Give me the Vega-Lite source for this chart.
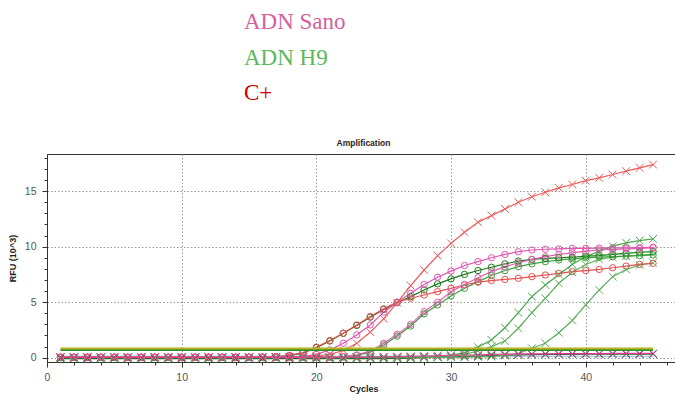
{
  "$schema": "https://vega.github.io/schema/vega-lite/v6.json",
  "background": "white",
  "padding": {"left": 7, "top": 5, "right": 0, "bottom": 0},
  "config": {"view": {"stroke": null}},
  "spacing": 14,
  "resolve": {"scale": {"color": "independent"}},
  "vconcat": [
    {
      "width": 394,
      "height": 119,
      "data": {"values": [{"label": "ADN Sano"}, {"label": "ADN H9"}, {"label": "C+"}]},
      "mark": {"type": "text", "align": "left", "baseline": "alphabetic", "font": "Liberation Serif", "fontSize": 23},
      "encoding": {
        "y": {"field": "label", "type": "nominal", "scale": {"type": "point", "domain": ["ADN Sano", "ADN H9", "C+"], "padding": 0.676}, "axis": null},
        "text": {"field": "label"},
        "color": {"field": "label", "type": "nominal", "scale": {"domain": ["ADN Sano", "ADN H9", "C+"], "range": ["#d4609e", "#5cb85c", "#c80000"]}, "legend": null}
      }
    },
    {
      "width": 633,
      "height": 208,
      "view": {"stroke": "#333", "strokeWidth": 1},
      "title": {"text": "Amplification", "fontSize": 8.5, "font": "Liberation Sans", "fontWeight": "bold", "color": "#222", "offset": 5},
      "data": {"values": [
        {"c":1,"cx":0.05,"co":0.05,"s1":0.05,"s2":0.05,"g1":0.02,"g2":0.02,"x1":0.02,"x2":0.02,"x3":0.02,"sn":0.05,"gn":-0.08,"bl":0.12,"t1":0.82,"t2":0.68},
        {"c":2,"cx":0.05,"co":0.05,"s1":0.05,"s2":0.05,"g1":0.02,"g2":0.02,"x1":0.02,"x2":0.02,"x3":0.02,"sn":0.05,"gn":-0.08,"bl":0.12,"t1":0.82,"t2":0.68},
        {"c":3,"cx":0.05,"co":0.05,"s1":0.05,"s2":0.05,"g1":0.02,"g2":0.02,"x1":0.02,"x2":0.02,"x3":0.02,"sn":0.05,"gn":-0.08,"bl":0.12,"t1":0.82,"t2":0.68},
        {"c":4,"cx":0.05,"co":0.05,"s1":0.05,"s2":0.05,"g1":0.02,"g2":0.02,"x1":0.02,"x2":0.02,"x3":0.02,"sn":0.05,"gn":-0.08,"bl":0.12,"t1":0.82,"t2":0.68},
        {"c":5,"cx":0.05,"co":0.05,"s1":0.05,"s2":0.05,"g1":0.02,"g2":0.02,"x1":0.02,"x2":0.02,"x3":0.02,"sn":0.05,"gn":-0.08,"bl":0.12,"t1":0.82,"t2":0.68},
        {"c":6,"cx":0.05,"co":0.05,"s1":0.05,"s2":0.05,"g1":0.02,"g2":0.02,"x1":0.02,"x2":0.02,"x3":0.02,"sn":0.05,"gn":-0.08,"bl":0.12,"t1":0.82,"t2":0.68},
        {"c":7,"cx":0.05,"co":0.05,"s1":0.05,"s2":0.05,"g1":0.02,"g2":0.02,"x1":0.02,"x2":0.02,"x3":0.02,"sn":0.05,"gn":-0.08,"bl":0.12,"t1":0.82,"t2":0.68},
        {"c":8,"cx":0.05,"co":0.05,"s1":0.05,"s2":0.05,"g1":0.02,"g2":0.02,"x1":0.02,"x2":0.02,"x3":0.02,"sn":0.05,"gn":-0.08,"bl":0.12,"t1":0.82,"t2":0.68},
        {"c":9,"cx":0.05,"co":0.05,"s1":0.05,"s2":0.05,"g1":0.02,"g2":0.02,"x1":0.02,"x2":0.02,"x3":0.02,"sn":0.05,"gn":-0.08,"bl":0.12,"t1":0.82,"t2":0.68},
        {"c":10,"cx":0.05,"co":0.05,"s1":0.05,"s2":0.05,"g1":0.02,"g2":0.02,"x1":0.02,"x2":0.02,"x3":0.02,"sn":0.05,"gn":-0.08,"bl":0.12,"t1":0.82,"t2":0.68},
        {"c":11,"cx":0.05,"co":0.05,"s1":0.05,"s2":0.05,"g1":0.02,"g2":0.02,"x1":0.02,"x2":0.02,"x3":0.02,"sn":0.05,"gn":-0.08,"bl":0.12,"t1":0.82,"t2":0.68},
        {"c":12,"cx":0.05,"co":0.05,"s1":0.05,"s2":0.05,"g1":0.02,"g2":0.02,"x1":0.02,"x2":0.02,"x3":0.02,"sn":0.05,"gn":-0.08,"bl":0.12,"t1":0.82,"t2":0.68},
        {"c":13,"cx":0.05,"co":0.05,"s1":0.05,"s2":0.05,"g1":0.02,"g2":0.02,"x1":0.02,"x2":0.02,"x3":0.02,"sn":0.05,"gn":-0.08,"bl":0.12,"t1":0.82,"t2":0.68},
        {"c":14,"cx":0.05,"co":0.05,"s1":0.05,"s2":0.05,"g1":0.02,"g2":0.02,"x1":0.02,"x2":0.02,"x3":0.02,"sn":0.05,"gn":-0.08,"bl":0.12,"t1":0.82,"t2":0.68},
        {"c":15,"cx":0.05,"co":0.05,"s1":0.05,"s2":0.05,"g1":0.02,"g2":0.02,"x1":0.02,"x2":0.02,"x3":0.02,"sn":0.05,"gn":-0.08,"bl":0.12,"t1":0.82,"t2":0.68},
        {"c":16,"cx":0.05,"co":0.06,"s1":0.05,"s2":0.05,"g1":0.04,"g2":0.02,"x1":0.02,"x2":0.02,"x3":0.02,"sn":0.05,"gn":-0.08,"bl":0.12,"t1":0.82,"t2":0.68},
        {"c":17,"cx":0.05,"co":0.1,"s1":0.05,"s2":0.05,"g1":0.08,"g2":0.02,"x1":0.02,"x2":0.02,"x3":0.02,"sn":0.05,"gn":-0.08,"bl":0.12,"t1":0.82,"t2":0.68},
        {"c":18,"cx":0.06,"co":0.2,"s1":0.06,"s2":0.05,"g1":0.18,"g2":0.02,"x1":0.02,"x2":0.02,"x3":0.02,"sn":0.05,"gn":-0.08,"bl":0.12,"t1":0.82,"t2":0.68},
        {"c":19,"cx":0.08,"co":0.45,"s1":0.1,"s2":0.05,"g1":0.4,"g2":0.03,"x1":0.02,"x2":0.02,"x3":0.02,"sn":0.05,"gn":-0.08,"bl":0.12,"t1":0.82,"t2":0.68},
        {"c":20,"cx":0.15,"co":0.95,"s1":0.3,"s2":0.05,"g1":0.9,"g2":0.03,"x1":0.02,"x2":0.02,"x3":0.02,"sn":0.05,"gn":-0.08,"bl":0.12,"t1":0.82,"t2":0.68},
        {"c":21,"cx":0.3,"co":1.55,"s1":0.7,"s2":0.06,"g1":1.5,"g2":0.04,"x1":0.02,"x2":0.02,"x3":0.02,"sn":0.05,"gn":-0.08,"bl":0.12,"t1":0.82,"t2":0.68},
        {"c":22,"cx":0.65,"co":2.2,"s1":1.3,"s2":0.1,"g1":2.2,"g2":0.06,"x1":0.02,"x2":0.02,"x3":0.02,"sn":0.05,"gn":-0.08,"bl":0.12,"t1":0.82,"t2":0.68},
        {"c":23,"cx":1.3,"co":2.95,"s1":2.05,"s2":0.25,"g1":2.9,"g2":0.2,"x1":0.02,"x2":0.02,"x3":0.02,"sn":0.05,"gn":-0.08,"bl":0.12,"t1":0.82,"t2":0.68},
        {"c":24,"cx":2.3,"co":3.7,"s1":2.95,"s2":0.6,"g1":3.65,"g2":0.5,"x1":0.02,"x2":0.02,"x3":0.02,"sn":0.05,"gn":-0.08,"bl":0.12,"t1":0.82,"t2":0.68},
        {"c":25,"cx":3.5,"co":4.4,"s1":4.1,"s2":1.3,"g1":4.35,"g2":1.15,"x1":0.02,"x2":0.02,"x3":0.02,"sn":0.08,"gn":-0.08,"bl":0.12,"t1":0.82,"t2":0.68},
        {"c":26,"cx":4.95,"co":5.0,"s1":5.0,"s2":2.1,"g1":4.95,"g2":1.95,"x1":0.02,"x2":0.02,"x3":0.02,"sn":0.1,"gn":-0.07,"bl":0.12,"t1":0.82,"t2":0.68},
        {"c":27,"cx":6.5,"co":5.35,"s1":5.8,"s2":3.0,"g1":5.5,"g2":2.85,"x1":0.03,"x2":0.02,"x3":0.02,"sn":0.12,"gn":-0.05,"bl":0.12,"t1":0.82,"t2":0.68},
        {"c":28,"cx":7.9,"co":5.65,"s1":6.6,"s2":4.15,"g1":6.1,"g2":3.95,"x1":0.04,"x2":0.02,"x3":0.02,"sn":0.15,"gn":0.0,"bl":0.12,"t1":0.82,"t2":0.68},
        {"c":29,"cx":9.2,"co":5.95,"s1":7.25,"s2":5.0,"g1":6.65,"g2":4.75,"x1":0.08,"x2":0.04,"x3":0.02,"sn":0.18,"gn":0.03,"bl":0.12,"t1":0.82,"t2":0.68},
        {"c":30,"cx":10.3,"co":6.25,"s1":7.8,"s2":5.95,"g1":7.1,"g2":5.55,"x1":0.2,"x2":0.1,"x3":0.03,"sn":0.2,"gn":0.06,"bl":0.12,"t1":0.82,"t2":0.68},
        {"c":31,"cx":11.3,"co":6.55,"s1":8.3,"s2":6.6,"g1":7.5,"g2":6.25,"x1":0.45,"x2":0.3,"x3":0.04,"sn":0.23,"gn":0.1,"bl":0.12,"t1":0.82,"t2":0.68},
        {"c":32,"cx":12.2,"co":6.8,"s1":8.65,"s2":7.2,"g1":7.85,"g2":6.85,"x1":0.95,"x2":0.6,"x3":0.06,"sn":0.26,"gn":0.14,"bl":0.12,"t1":0.82,"t2":0.68},
        {"c":33,"cx":12.8,"co":6.95,"s1":9.0,"s2":7.75,"g1":8.15,"g2":7.4,"x1":1.6,"x2":1.0,"x3":0.1,"sn":0.3,"gn":0.18,"bl":0.12,"t1":0.82,"t2":0.68},
        {"c":34,"cx":13.4,"co":7.05,"s1":9.3,"s2":8.2,"g1":8.45,"g2":7.85,"x1":2.7,"x2":1.5,"x3":0.2,"sn":0.32,"gn":0.22,"bl":0.12,"t1":0.82,"t2":0.68},
        {"c":35,"cx":14.0,"co":7.15,"s1":9.55,"s2":8.55,"g1":8.7,"g2":8.2,"x1":4.05,"x2":2.65,"x3":0.35,"sn":0.34,"gn":0.26,"bl":0.12,"t1":0.82,"t2":0.68},
        {"c":36,"cx":14.5,"co":7.3,"s1":9.7,"s2":8.85,"g1":8.85,"g2":8.45,"x1":5.5,"x2":4.05,"x3":0.85,"sn":0.35,"gn":0.28,"bl":0.12,"t1":0.82,"t2":0.68},
        {"c":37,"cx":14.9,"co":7.45,"s1":9.77,"s2":9.1,"g1":8.95,"g2":8.65,"x1":6.55,"x2":5.35,"x3":1.3,"sn":0.35,"gn":0.29,"bl":0.12,"t1":0.82,"t2":0.68},
        {"c":38,"cx":15.3,"co":7.6,"s1":9.8,"s2":9.3,"g1":9.0,"g2":8.8,"x1":7.5,"x2":6.7,"x3":2.25,"sn":0.36,"gn":0.3,"bl":0.12,"t1":0.82,"t2":0.68},
        {"c":39,"cx":15.6,"co":7.75,"s1":9.85,"s2":9.45,"g1":9.05,"g2":8.9,"x1":8.4,"x2":7.7,"x3":3.35,"sn":0.36,"gn":0.3,"bl":0.12,"t1":0.82,"t2":0.68},
        {"c":40,"cx":15.95,"co":7.85,"s1":9.85,"s2":9.6,"g1":9.15,"g2":9.0,"x1":9.1,"x2":8.4,"x3":4.75,"sn":0.37,"gn":0.31,"bl":0.12,"t1":0.82,"t2":0.68},
        {"c":41,"cx":16.2,"co":7.95,"s1":9.87,"s2":9.7,"g1":9.2,"g2":9.05,"x1":9.6,"x2":8.85,"x3":6.1,"sn":0.37,"gn":0.31,"bl":0.12,"t1":0.82,"t2":0.68},
        {"c":42,"cx":16.5,"co":8.1,"s1":9.9,"s2":9.75,"g1":9.3,"g2":9.1,"x1":10.05,"x2":9.05,"x3":7.3,"sn":0.38,"gn":0.32,"bl":0.12,"t1":0.82,"t2":0.68},
        {"c":43,"cx":16.8,"co":8.25,"s1":9.9,"s2":9.8,"g1":9.4,"g2":9.15,"x1":10.35,"x2":9.15,"x3":7.95,"sn":0.38,"gn":0.32,"bl":0.12,"t1":0.82,"t2":0.68},
        {"c":44,"cx":17.1,"co":8.4,"s1":9.92,"s2":9.85,"g1":9.5,"g2":9.2,"x1":10.55,"x2":9.25,"x3":8.35,"sn":0.38,"gn":0.32,"bl":0.12,"t1":0.82,"t2":0.68},
        {"c":45,"cx":17.4,"co":8.5,"s1":9.95,"s2":9.9,"g1":9.55,"g2":9.25,"x1":10.7,"x2":9.3,"x3":8.55,"sn":0.38,"gn":0.32,"bl":0.12,"t1":0.82,"t2":0.68}
      ]},
      "transform": [{"fold": ["bl", "gn", "x3", "x2", "x1", "g2", "g1", "co", "s2", "s1", "cx", "sn", "t2", "t1"], "as": ["series", "rfu"]}],
      "encoding": {
        "x": {
          "field": "c", "type": "quantitative",
          "scale": {"domain": [0, 47], "nice": false, "zero": false},
          "axis": {
            "values": [0, 2, 4, 6, 8, 10, 12, 14, 16, 18, 20, 22, 24, 26, 28, 30, 32, 34, 36, 38, 40, 42, 44, 46],
            "labelExpr": "datum.value % 10 === 0 ? datum.label : ''",
            "labelFlush": false, "labelOverlap": false,
            "grid": true,
            "gridColor": {"condition": {"test": "datum.value % 10 === 0 && datum.value > 0", "value": "#999"}, "value": "transparent"},
            "gridDash": [1.5, 2],
            "tickSize": {"condition": {"test": "datum.value % 10 === 0", "value": 5}, "value": 3},
            "domainColor": "#333", "tickColor": "#333",
            "labelColor": "#555", "labelFont": "Liberation Sans", "labelFontSize": 10.5, "labelPadding": 5,
            "title": "Cycles", "titleFont": "Liberation Sans", "titleFontSize": 9, "titleFontWeight": "bold", "titleColor": "#222", "titlePadding": 2
          }
        },
        "y": {
          "field": "rfu", "type": "quantitative",
          "scale": {"domain": [-0.39, 18.35], "nice": false, "zero": false},
          "axis": {
            "values": [0, 1, 2, 3, 4, 5, 6, 7, 8, 9, 10, 11, 12, 13, 14, 15, 16, 17, 18],
            "labelExpr": "datum.value % 5 === 0 ? datum.label : ''",
            "labelOverlap": false, "labelFlush": false,
            "grid": true,
            "gridColor": {"condition": {"test": "datum.value % 5 === 0", "value": "#999"}, "value": "transparent"},
            "gridDash": [1.5, 2],
            "tickSize": {"condition": {"test": "datum.value % 5 === 0", "value": 5}, "value": 3},
            "domainColor": "#333", "tickColor": "#333",
            "labelColor": "#555", "labelFont": "Liberation Sans", "labelFontSize": 10.5, "labelPadding": 6,
            "title": "RFU (10^3)", "titleFont": "Liberation Sans", "titleFontSize": 9, "titleFontWeight": "bold", "titleColor": "#222", "titlePadding": 7
          }
        },
        "color": {
          "field": "series", "type": "nominal",
          "scale": {
            "domain": ["bl", "gn", "x3", "x2", "x1", "g2", "g1", "co", "s2", "s1", "cx", "sn", "t2", "t1"],
            "range": ["#9ccbe6", "#1f6e1f", "#5cb05c", "#5cb05c", "#4fa84f", "#3c9e3c", "#1a7a1a", "#e65050", "#e35fb2", "#e056b0", "#ef5a5a", "#e8359f", "#2e8b2e", "#b4b41e"]
          },
          "legend": null
        }
      },
      "layer": [
        {
          "transform": [{"filter": {"not": {"field": "series", "oneOf": ["t1", "t2"]}}}],
          "mark": {"type": "line", "strokeWidth": 1.2}
        },
        {
          "transform": [{"filter": {"field": "series", "oneOf": ["co", "s1", "s2", "g1", "g2"]}}],
          "mark": {"type": "point", "shape": "circle", "filled": false, "size": 40, "strokeWidth": 1, "opacity": 1}
        },
        {
          "transform": [{"filter": {"field": "series", "oneOf": ["cx", "x1", "x2", "x3", "sn", "gn"]}}],
          "mark": {"type": "point", "shape": "M-1,-1L1,1M-1,1L1,-1", "filled": false, "size": 60, "strokeWidth": 1, "opacity": 1}
        },
        {
          "transform": [{"filter": {"field": "series", "oneOf": ["t1", "t2"]}}],
          "mark": {"type": "line", "strokeWidth": 2}
        }
      ]
    }
  ]
}
